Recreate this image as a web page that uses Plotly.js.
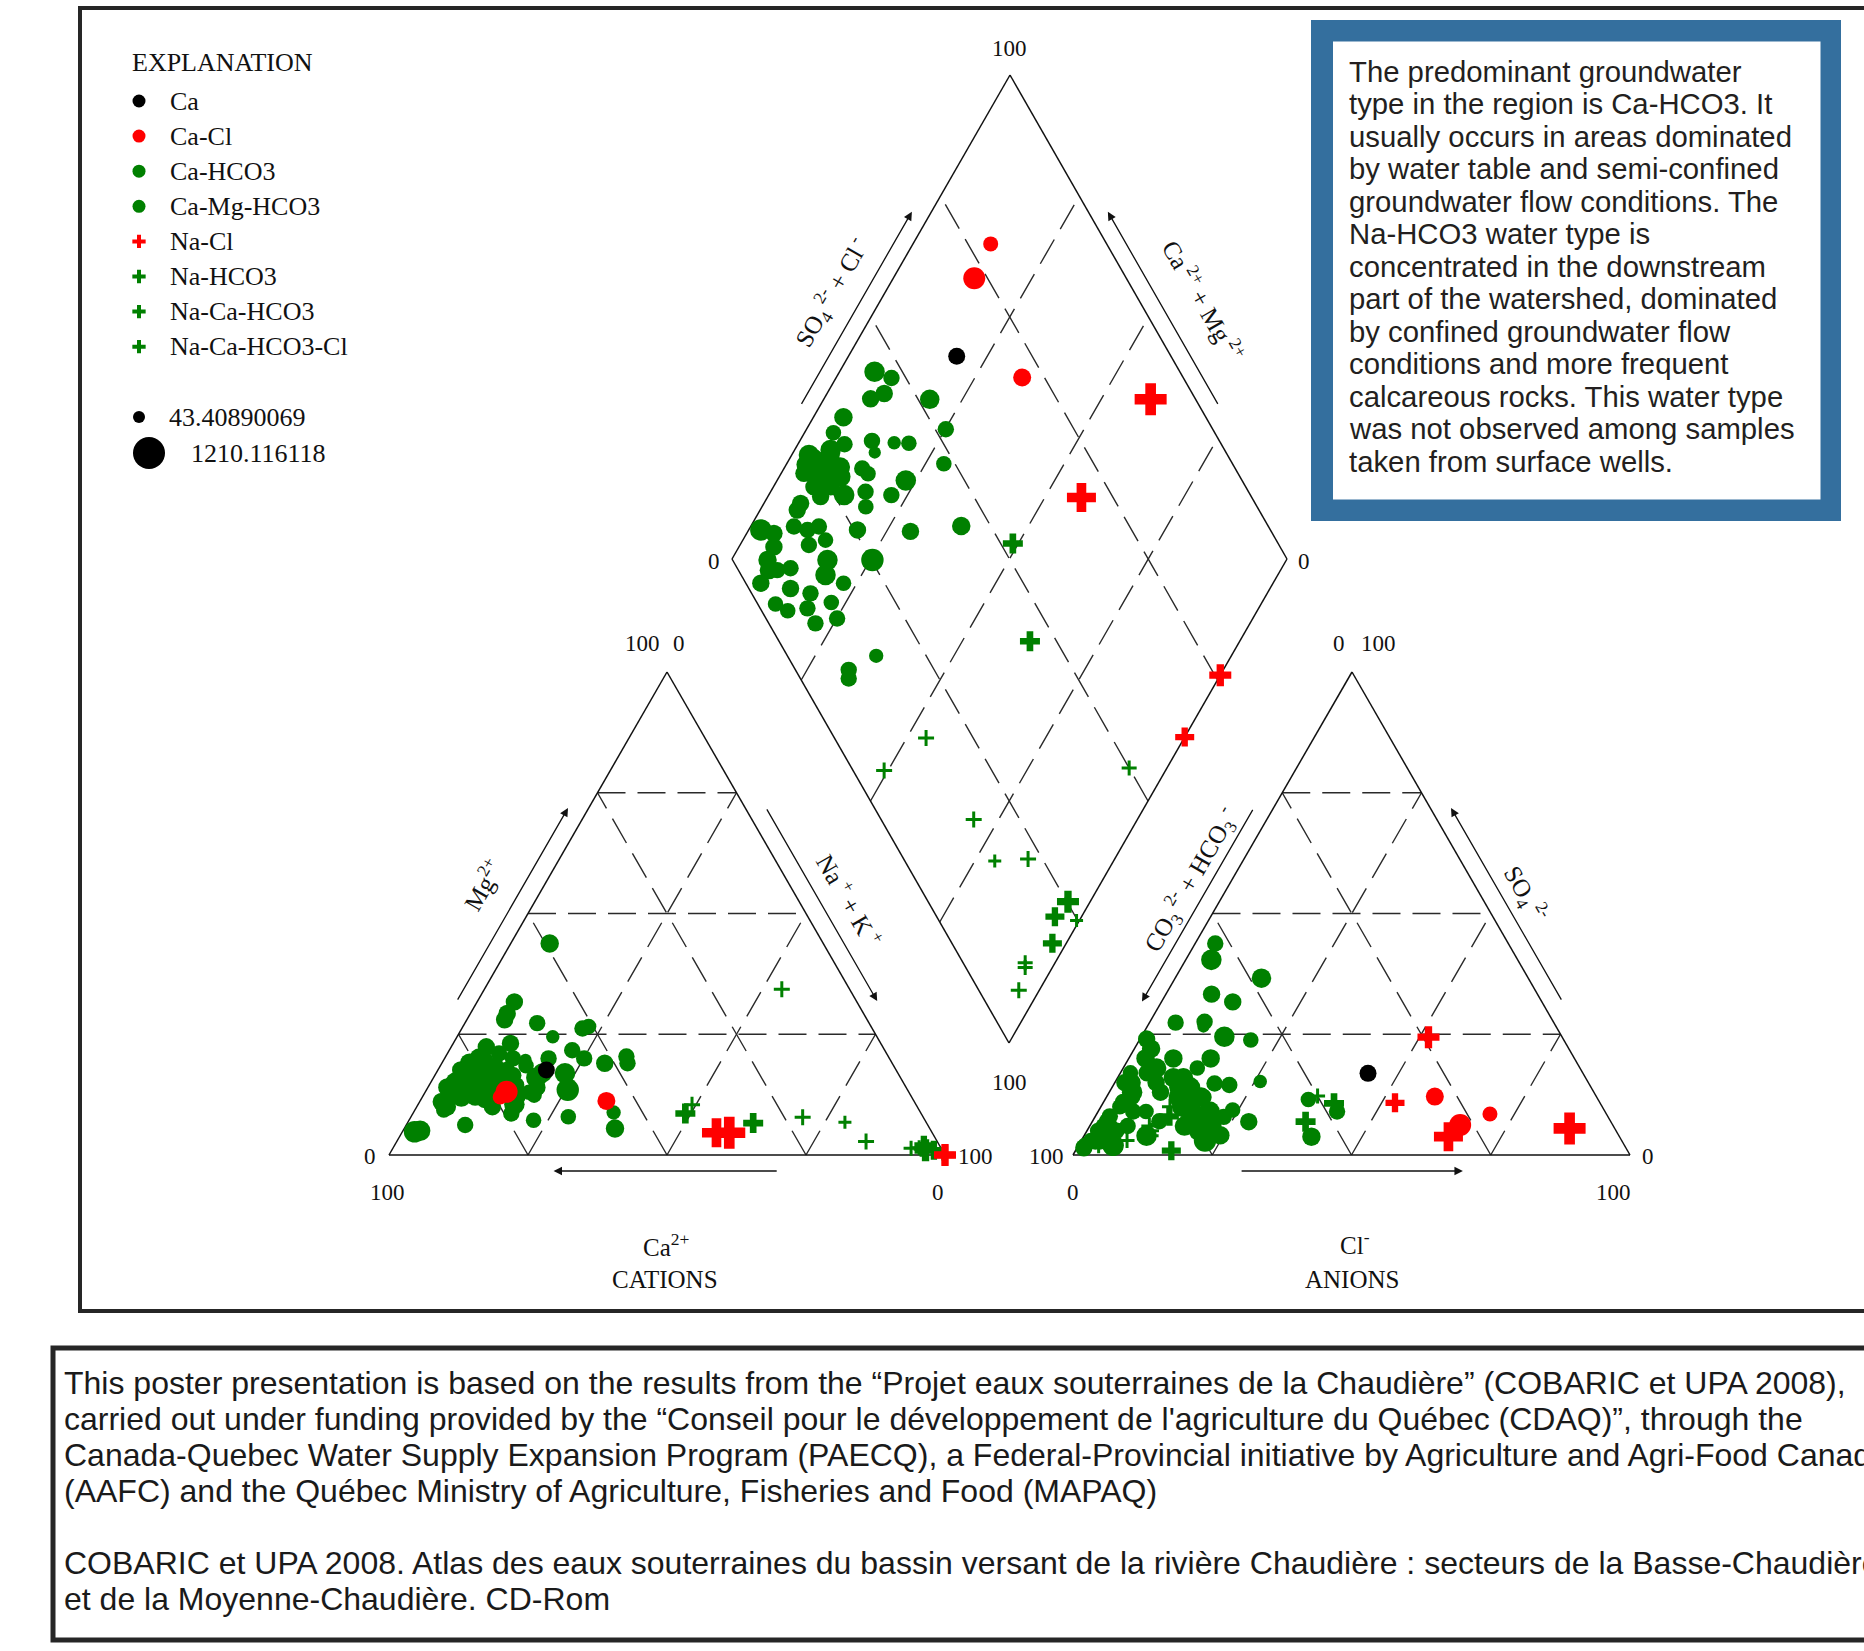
<!DOCTYPE html>
<html>
<head>
<meta charset="utf-8">
<script src="https://cdn.plot.ly/plotly-3.0.1.min.js"></script>
<style>html,body{margin:0;padding:0;background:#fff;}#chart{width:1864px;height:1651px;}</style>
</head>
<body>
<div id="chart"></div>
<script>
// ---------------- DATA (percent of meq) ----------------
const sampleType = [
 'Ca-HCO3','Ca-HCO3','Ca-HCO3','Ca-HCO3','Ca-HCO3','Ca-HCO3','Ca-HCO3','Ca-HCO3','Ca-Mg-HCO3','Ca-HCO3',
 'Ca-HCO3','Ca-HCO3','Ca-HCO3','Ca-HCO3','Ca-HCO3','Ca-HCO3','Ca-HCO3','Ca-HCO3','Ca-HCO3','Ca-HCO3',
 'Ca-HCO3','Ca-Mg-HCO3','Ca-HCO3','Ca-Mg-HCO3','Ca-HCO3','Ca-HCO3','Ca-HCO3','Ca-HCO3','Ca-Mg-HCO3','Ca-HCO3',
 'Ca-HCO3','Ca-HCO3','Ca-HCO3','Ca-HCO3','Ca-HCO3','Ca-HCO3','Ca-HCO3','Ca-Mg-HCO3','Ca-HCO3','Ca-HCO3',
 'Ca-HCO3','Ca-HCO3','Ca-HCO3','Ca-HCO3','Ca-HCO3','Ca-HCO3','Ca-HCO3','Ca-HCO3','Ca-HCO3','Ca-HCO3',
 'Ca-HCO3','Ca-Mg-HCO3','Ca-HCO3','Ca-HCO3','Ca-HCO3','Ca-HCO3','Ca-HCO3','Ca-Mg-HCO3','Ca-HCO3','Ca-HCO3',
 'Ca-HCO3','Ca-HCO3','Ca-HCO3',
 'Ca-HCO3','Ca-HCO3','Ca-HCO3','Ca-HCO3','Ca-HCO3','Ca-HCO3','Ca-HCO3','Ca-HCO3','Ca-HCO3','Ca-HCO3',
 'Ca-HCO3','Ca-HCO3','Ca-HCO3','Ca-HCO3',
 'Ca','Ca-Cl','Ca-Cl','Ca-Cl',
 'Na-Ca-HCO3-Cl','Na-HCO3','Na-Ca-HCO3','Na-Ca-HCO3','Na-HCO3','Na-HCO3','Na-HCO3','Na-HCO3','Na-HCO3','Na-HCO3',
 'Na-HCO3','Na-HCO3','Na-HCO3','Na-HCO3','Na-HCO3',
 'Na-Cl','Na-Cl','Na-Cl','Na-Cl'
];
const cationNaK = [
 6.3,10,10.3,8.4,19.1,5.4,5.2,8.4,13,14.7,
 17.2,19.9,25.1,28.3,14.1,15.7,23.2,22.1,17.1,18.7,
 3.1,7,4.1,6.8,10.1,7.3,10.3,13.6,6.6,9.5,
 11.1,19.6,29.3,37.9,25.4,2.2,4.9,6.7,7.8,10.6,
 12.3,14.9,12.4,6.3,6.5,7.8,7.7,9.3,11.5,17.3,
 18.5,22.6,13.6,17.7,12.5,15.4,18.7,21.7,22.4,25.1,
 36,32.5,33.4,
 4.5,6,8,5,9,7,3.5,10,6.5,8.5,
 5,4,11,7.5,
 19.5,14,14.6,33.5,
 49,62.2,53.5,49.3,93.2,70.5,78.6,84.4,96,95.2,
 99.5,97.5,94.6,95.1,96.3,
 58.9,56.6,100,100
];
const cationMg = [
 20,16,14,14.5,17,10,9.3,17,27.3,19.7,
 24.5,12.4,20,7.9,16.5,14.5,16.9,21.7,12,13,
 5,43.8,17.6,28,18,19.7,23.1,15,29.3,12,
 15.5,14,19,5.5,13.5,4.8,12.4,31.7,13,6.2,
 20,14,17.6,22.4,15,19,16,21,11.4,10.5,
 16,26.6,10,8.6,13,18.5,20,26.2,7.2,13.8,
 8.8,20.4,19,
 15,17,14,19,16,12,14,18,15.5,13,
 16,11,15,17,
 17.6,12,13.1,11.2,
 8.6,6.6,34.3,10.4,1.4,7.8,6.8,2.8,1,2,
 0.2,1,1.5,1.2,1,
 4.6,4.6,0,0
];
const anionSO4 = [
 40.4,43.8,31.7,33.3,36.6,20,18,27.4,27.6,26.6,
 15.2,23.8,9,11.5,14.8,9.3,24.5,14.5,7.9,12,
 10,4.1,17,24,16,13,9,7,15,15,
 6,11,6.9,3.8,3,2,5,15,11,12,
 7,17,9,6,3,3,1.5,5,7,13,
 4,9,5,8,2,3,6,3,10,6,
 12,6,4,
 12,14,10,18,8,16,20,12,9,20,
 5,22,14,6,
 16.9,8.5,6.2,12.1,
 10.7,6.9,5,2,12.2,6,4,10,5.5,8,
 7,0.9,3,5,2,
 5.5,3.8,24.4,10.8
];
const anionCl = [
 4.6,3.6,12.8,8.2,15.5,14.7,13.3,4.7,9.8,10.1,
 26,20,42.9,36.5,18,24,14.9,20.8,23.1,17.5,
 14.6,24.4,4.8,1.2,11.8,9.2,16.2,19.8,3.1,7.4,
 22.1,14.6,28.1,40.9,22.2,6.2,5.2,1.8,3.5,4.6,
 12,1.8,6.3,2.8,3.3,2.5,1.2,2,2.6,4.1,
 11.2,8.6,2.5,2.6,1.2,1.7,2.5,5.4,3.4,6.8,
 4,3.6,4.7,
 13,12,16,6,19,10,3,17,20,8,
 20,3,14,17,
 44.5,70.6,66.4,58.9,
 41.5,38.3,11.5,3.6,37.8,10.7,12.2,12.4,19.7,13.3,
 17.8,17.2,8.2,5.7,5.2,
 86.4,65.5,51.6,52.4
];
const sampleTDS = [
 540,300,360,360,480,420,250,300,300,60,
 130,250,300,250,300,250,540,300,300,250,
 540,420,360,360,480,360,360,540,360,360,
 360,360,360,420,650,600,360,360,300,300,
 300,250,300,360,420,420,360,300,300,540,
 540,250,360,300,250,250,300,300,250,300,
 180,300,300,
 540,480,540,480,540,480,420,480,540,420,
 480,420,540,480,
 335,218,627,393,
 510,510,277,277,218,277,102,277,627,452,
 102,452,218,218,277,
 1210,1035,627,452
];
const legendTypes = ['Ca','Ca-Cl','Ca-HCO3','Ca-Mg-HCO3','Na-Cl','Na-HCO3','Na-Ca-HCO3','Na-Ca-HCO3-Cl'];
const sizeLegendValues = [43.40890069, 1210.116118];
const tickFractions = [0.25, 0.5, 0.75];

// ---------------- STYLE ----------------
const GREEN='#008000', RED='#ff0000', BLACK='#000000';
const typeStyle = {
 'Ca':{color:BLACK,plus:false}, 'Ca-Cl':{color:RED,plus:false},
 'Ca-HCO3':{color:GREEN,plus:false}, 'Ca-Mg-HCO3':{color:GREEN,plus:false},
 'Na-Cl':{color:RED,plus:true}, 'Na-HCO3':{color:GREEN,plus:true},
 'Na-Ca-HCO3':{color:GREEN,plus:true}, 'Na-Ca-HCO3-Cl':{color:GREEN,plus:true}
};
const drawOrder = ['Ca-HCO3','Ca-Mg-HCO3','Ca','Ca-Cl','Na-HCO3','Na-Ca-HCO3','Na-Ca-HCO3-Cl','Na-Cl'];
const SERIF='"Liberation Serif","Times New Roman",serif';
const SANS='"Liberation Sans",Arial,Helvetica,sans-serif';
const INK='#111111';

// ---------------- GEOMETRY ----------------
const CAT={bl:[389,1155],br:[945,1155],ap:[667,672]};
const ANI={bl:[1073,1155],br:[1630,1155],ap:[1352,672]};
const DIA={b:[1009,1043],r:[1287,559],l:[732,559]};
function tern(T,u,v){return [T.bl[0]+u*(T.br[0]-T.bl[0])+v*(T.ap[0]-T.bl[0]), T.bl[1]+u*(T.br[1]-T.bl[1])+v*(T.ap[1]-T.bl[1])];}
function dia(a,m){return [DIA.b[0]+a*(DIA.r[0]-DIA.b[0])+m*(DIA.l[0]-DIA.b[0]), DIA.b[1]+a*(DIA.r[1]-DIA.b[1])+m*(DIA.l[1]-DIA.b[1])];}
const DT=dia(1,1);
const cc=[(CAT.bl[0]+CAT.br[0]+CAT.ap[0])/3,(CAT.bl[1]+CAT.br[1]+CAT.ap[1])/3];
const ac=[(ANI.bl[0]+ANI.br[0]+ANI.ap[0])/3,(ANI.bl[1]+ANI.br[1]+ANI.ap[1])/3];
const dc=[(DIA.l[0]+DIA.r[0])/2,(DIA.l[1]+DIA.r[1])/2];
function offPt(p0,p1,t,off,c){const dx=p1[0]-p0[0],dy=p1[1]-p0[1],L=Math.hypot(dx,dy);let nx=-dy/L,ny=dx/L;const mx=p0[0]+t*dx,my=p0[1]+t*dy;if((mx-c[0])*nx+(my-c[1])*ny<0){nx=-nx;ny=-ny;}return [mx+off*nx,my+off*ny];}

function diam(v){return 12+20*(v-sizeLegendValues[0])/(sizeLegendValues[1]-sizeLegendValues[0]);}
function posOf(panel,i){
  const na=cationNaK[i]/100, mg=cationMg[i]/100, so4=anionSO4[i]/100, cl=anionCl[i]/100;
  if(panel==='cation') return tern(CAT,na,mg);
  if(panel==='anion') return tern(ANI,cl,so4);
  return dia(so4+cl,1-na);
}

// ---------------- TRACES ----------------
const traces=[];
['cation','anion','diamond'].forEach(panel=>{
  drawOrder.forEach(t=>{
    const idx=sampleType.map((s,i)=>s===t?i:-1).filter(i=>i>=0);
    if(!idx.length) return;
    const st=typeStyle[t];
    const xs=[],ys=[],sz=[],lw=[];
    idx.forEach(i=>{const p=posOf(panel,i);xs.push(p[0]);ys.push(p[1]);const D=diam(sampleTDS[i]);
      if(st.plus){sz.push(D/1.4);lw.push(sampleTDS[i]>=450?D/3:3);}else{sz.push(D);lw.push(0);}});
    traces.push({type:'scatter',mode:'markers',x:xs,y:ys,hoverinfo:'skip',showlegend:false,
      marker:st.plus?{symbol:'cross-thin-open',size:sz,opacity:1,color:st.color,line:{width:lw,color:st.color}}
                    :{symbol:'circle',size:sz,opacity:1,color:st.color,line:{width:0}}});
  });
});
// legend glyphs
const legX=139, legY0=101, legStep=35.1;
legendTypes.forEach((t,k)=>{
  const st=typeStyle[t];
  traces.push({type:'scatter',mode:'markers',x:[legX],y:[legY0+k*legStep],hoverinfo:'skip',showlegend:false,
    marker:st.plus?{symbol:'cross-thin-open',size:9.5,opacity:1,color:st.color,line:{width:4,color:st.color}}
                  :{symbol:'circle',size:13,opacity:1,color:st.color,line:{width:0}}});
});
const sizeLegX=[139,149], sizeLegY=[417,453];
sizeLegendValues.forEach((v,k)=>{
  traces.push({type:'scatter',mode:'markers',x:[sizeLegX[k]],y:[sizeLegY[k]],hoverinfo:'skip',showlegend:false,
    marker:{symbol:'circle',size:diam(v),opacity:1,color:BLACK,line:{width:0}}});
});

// ---------------- SHAPES ----------------
const shapes=[];
function seg(p,q,dash){shapes.push({type:'line',xref:'x',yref:'y',x0:p[0],y0:p[1],x1:q[0],y1:q[1],layer:'below',
  line:{color:dash?'#2a2a2a':INK,width:dash?1.4:1.5,dash:dash?'28px,12px':'solid'}});}
shapes.push({type:'rect',xref:'x',yref:'y',x0:80,y0:8,x1:1900,y1:1311,layer:'below',line:{color:'#262626',width:4},fillcolor:'rgba(0,0,0,0)'});
shapes.push({type:'rect',xref:'x',yref:'y',x0:53,y0:1348,x1:1900,y1:1640,layer:'below',line:{color:'#262626',width:5},fillcolor:'rgba(0,0,0,0)'});
shapes.push({type:'rect',xref:'x',yref:'y',x0:1311,y0:20,x1:1841,y1:521,layer:'below',line:{width:0},fillcolor:'#346f9e'});
shapes.push({type:'rect',xref:'x',yref:'y',x0:1333,y0:41.5,x1:1820.5,y1:499.5,layer:'below',line:{width:0},fillcolor:'#ffffff'});
[CAT,ANI].forEach(T=>{
  tickFractions.forEach(f=>{
    seg(tern(T,0,f),tern(T,1-f,f),true);
    seg(tern(T,f,0),tern(T,f,1-f),true);
    seg(tern(T,1-f,0),tern(T,0,1-f),true);
  });
  seg(T.bl,T.br,false);seg(T.br,T.ap,false);seg(T.ap,T.bl,false);
});
tickFractions.forEach(f=>{seg(dia(f,0),dia(f,1),true);seg(dia(0,f),dia(1,f),true);});
seg(DIA.b,DIA.r,false);seg(DIA.r,DT,false);seg(DT,DIA.l,false);seg(DIA.l,DIA.b,false);

// ---------------- ANNOTATIONS ----------------
const ann=[];
function txt(p,text,size,opt){ann.push(Object.assign({x:p[0],y:p[1],xref:'x',yref:'y',text:text,showarrow:false,
  xanchor:'center',yanchor:'middle',font:{family:SERIF,size:size,color:INK}},opt||{}));}
function arrow(tail,head){ann.push({x:head[0],y:head[1],ax:tail[0],ay:tail[1],xref:'x',yref:'y',axref:'x',ayref:'y',
  text:'',showarrow:true,arrowhead:2,arrowsize:1.3,arrowwidth:1.3,arrowcolor:INK,standoff:0});}
const TK=23;
txt([370,1156],'0',TK); txt([387,1192],'100',TK); txt([938,1192],'0',TK); txt([975,1156],'100',TK);
txt([642,643],'100',TK); txt([679,643],'0',TK);
txt([1046,1156],'100',TK); txt([1073,1192],'0',TK); txt([1613,1192],'100',TK); txt([1648,1156],'0',TK);
txt([1339,643],'0',TK); txt([1378,643],'100',TK);
txt([1009,48],'100',TK); txt([714,561],'0',TK); txt([1304,561],'0',TK); txt([1009,1082],'100',TK);
arrow(offPt(CAT.bl,CAT.ap,0.30,18,cc),offPt(CAT.bl,CAT.ap,0.70,18,cc));
arrow(offPt(CAT.ap,CAT.br,0.30,18,cc),offPt(CAT.ap,CAT.br,0.70,18,cc));
arrow(offPt(CAT.bl,CAT.br,0.70,16,cc),offPt(CAT.bl,CAT.br,0.296,16,cc));
arrow(offPt(ANI.bl,ANI.ap,0.70,17,ac),offPt(ANI.bl,ANI.ap,0.30,17,ac));
arrow(offPt(ANI.ap,ANI.br,0.70,18,ac),offPt(ANI.ap,ANI.br,0.30,18,ac));
arrow(offPt(ANI.bl,ANI.br,0.30,16,ac),offPt(ANI.bl,ANI.br,0.70,16,ac));
arrow(offPt(DIA.l,DT,0.30,17,dc),offPt(DIA.l,DT,0.70,17,dc));
arrow(offPt(DIA.r,DT,0.30,17,dc),offPt(DIA.r,DT,0.70,17,dc));
const LB=25;
txt(offPt(CAT.bl,CAT.ap,0.503,54,cc),'Mg<sup>2+</sup>',LB,{textangle:-60});
txt(offPt(CAT.ap,CAT.br,0.518,45,cc),'Na<sup> +</sup> + K<sup> +</sup>',LB,{textangle:60});
txt([666,1245],'Ca<sup>2+</sup>',LB); txt([665,1279],'CATIONS',LB);
txt(offPt(ANI.bl,ANI.ap,0.533,36,ac),'CO<sub>3</sub><sup> 2-</sup> + HCO<sub>3</sub><sup> -</sup>',LB,{textangle:-60});
txt(offPt(ANI.ap,ANI.br,0.5,40,ac),'SO<sub>4</sub><sup> 2-</sup>',LB,{textangle:60});
txt([1355,1243],'Cl<sup>-</sup>',LB); txt([1352,1279],'ANIONS',LB);
txt(offPt(DIA.l,DT,0.502,46,dc),'SO<sub>4</sub><sup> 2-</sup> + Cl<sup> -</sup>',LB,{textangle:-60});
txt(offPt(DIA.r,DT,0.477,56,dc),'Ca<sup> 2+</sup> + Mg<sup> 2+</sup>',LB,{textangle:60});
const LG=26;
txt([130,62],'EXPLANATION',LG,{xanchor:'left'});
legendTypes.forEach((t,k)=>txt([168,legY0+k*legStep],t,LG,{xanchor:'left'}));
txt([167,sizeLegY[0]],String(sizeLegendValues[0]),LG,{xanchor:'left'});
txt([189,sizeLegY[1]],String(sizeLegendValues[1]),LG,{xanchor:'left'});
const boxLines=['The predominant groundwater','type in the region is Ca-HCO3. It','usually occurs in areas dominated',
 'by water table and semi-confined','groundwater flow conditions. The','Na-HCO3 water type is',
 'concentrated in the downstream','part of the watershed, dominated','by confined groundwater flow',
 'conditions and more frequent','calcareous rocks. This water type','was not observed among samples','taken from surface wells.'];
boxLines.forEach((s,k)=>ann.push({x:1347,y:71.3+k*32.5,xref:'x',yref:'y',text:s,showarrow:false,xanchor:'left',yanchor:'middle',
  font:{family:SANS,size:29.3,color:'#231f20'}}));
const footLines=[
 'This poster presentation is based on the results from the \u201cProjet eaux souterraines de la Chaudi\u00e8re\u201d (COBARIC et UPA 2008),',
 'carried out under funding provided by the \u201cConseil pour le d\u00e9veloppement de l\'agriculture du Qu\u00e9bec (CDAQ)\u201d, through the',
 'Canada-Quebec Water Supply Expansion Program (PAECQ), a Federal-Provincial initiative by Agriculture and Agri-Food Canada',
 '(AAFC) and the Qu\u00e9bec Ministry of Agriculture, Fisheries and Food (MAPAQ)',
 '',
 'COBARIC et UPA 2008. Atlas des eaux souterraines du bassin versant de la rivi\u00e8re Chaudi\u00e8re : secteurs de la Basse-Chaudi\u00e8re',
 'et de la Moyenne-Chaudi\u00e8re. CD-Rom'];
footLines.forEach((s,k)=>{if(!s)return;ann.push({x:62,y:1383+k*36,xref:'x',yref:'y',text:s,showarrow:false,xanchor:'left',yanchor:'middle',
  font:{family:SANS,size:32,color:'#1a1a1a'}});});

const layout={width:1864,height:1651,margin:{l:0,r:0,t:0,b:0},paper_bgcolor:'#ffffff',plot_bgcolor:'#ffffff',
  xaxis:{range:[0,1864],visible:false,fixedrange:true},yaxis:{range:[1651,0],visible:false,fixedrange:true},
  showlegend:false,shapes:shapes,annotations:ann};
Plotly.newPlot('chart',traces,layout,{staticPlot:true,displayModeBar:false});
</script>
</body>
</html>
